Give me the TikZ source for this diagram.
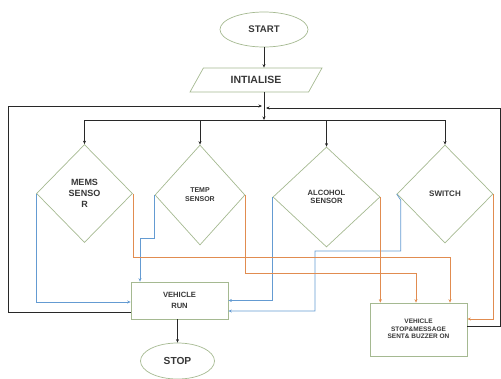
\documentclass[tikz,border=0pt]{standalone}
\usepackage{fontspec}
\setmainfont{Liberation Sans}
\usetikzlibrary{shapes.geometric,arrows.meta,calc}
\definecolor{shapeline}{RGB}{165,185,145}
\definecolor{flowblue}{RGB}{100,155,210}
\definecolor{floworange}{RGB}{225,140,80}
\definecolor{txt}{RGB}{55,55,55}
\definecolor{blk}{RGB}{40,40,40}
\begin{document}
\begin{tikzpicture}[x=1pt,y=-1pt,
 shp/.style={draw=shapeline, line width=0.7pt, text=txt, align=center, inner sep=0pt},
 dec/.style={shp, diamond, minimum width=96pt, minimum height=98pt},
 box/.style={shp, rectangle},
 term/.style={shp, ellipse},
 arr/.style={-{Stealth[length=3.5pt,width=3pt]}},
 blkline/.style={draw=blk, line width=0.9pt},
 bl/.style={draw=flowblue, line width=0.7pt, arr},
 orng/.style={draw=floworange, line width=0.7pt, arr},
]
\useasboundingbox (0,0) rectangle (501,378);

\node[term, minimum width=88pt, minimum height=35pt, font=\bfseries\fontsize{9.6}{12}\selectfont] (start) at (264,29.5) {START};
\node[shp, trapezium, trapezium left angle=49, trapezium right angle=131, trapezium stretches=true, minimum width=132pt, minimum height=24pt, font=\bfseries\fontsize{10.5}{12}\selectfont] (init) at (256,80) {INTIALISE};

\node[dec, font=\bfseries\fontsize{9}{11}\selectfont] (mems) at (84.5,193.5) {MEMS\\SENSO\\R};
\node[dec, minimum width=90pt, minimum height=100pt, font=\bfseries\fontsize{7}{9}\selectfont] (temp) at (200,195) {TEMP\\SENSOR};
\node[dec, minimum width=107pt, minimum height=100pt, font=\bfseries\fontsize{7.6}{8.5}\selectfont] (alc) at (326.5,197) {ALCOHOL\\SENSOR};
\node[dec, font=\bfseries\fontsize{8}{10}\selectfont] (sw) at (445,194) {SWITCH};

\node[box, minimum width=97pt, minimum height=37pt, font=\bfseries\fontsize{7.6}{11}\selectfont] (run) at (179.5,300.5) {VEHICLE\\RUN};
\node[box, minimum width=97pt, minimum height=53pt, font=\bfseries\fontsize{6.5}{7.5}\selectfont] (vstop) at (418.5,329.5) {\raisebox{6pt}{\begin{tabular}{@{}c@{}}VEHICLE\\STOP\&MESSAGE\\SENT\& BUZZER ON\end{tabular}}};
\node[term, minimum width=74pt, minimum height=36pt, font=\bfseries\fontsize{10.2}{12}\selectfont] (stop) at (177.5,361) {STOP};

\coordinate (dist) at (264,120);
\draw[blkline,arr] (start.south) -- (start.south |- init.north);
\draw[blkline,arr] (start.south |- init.south) -- (dist);
\draw[blkline] (mems.north |- dist) -- (sw.north |- dist);
\foreach \n in {mems,temp,alc,sw}{
  \draw[blkline,arr] (\n.north |- dist) -- (\n.north);
}
\draw[blkline,arr] ([yshift=-11.5pt]run.west) -| (8,106) -- (262,106);
\draw[blkline,arr] ([yshift=3.5pt]vstop.east) -| (500,108) -- (266,108);
\draw[blkline,arr] (stop.north |- run.south) -- (stop.north);

\draw[bl] (mems.west) |- ([yshift=-1.5pt]run.west);
\draw[bl] (temp.west) -- ++(0,43) -| ([xshift=-39.5pt]run.north);
\draw[bl] (alc.west) |- (run.east);
\draw[bl] (sw.west) -- ++(4,6) |- (315,251) |- ([yshift=-10.5pt]run.east);

\draw[orng] (mems.east) -- ++(0,63.5) -| ([xshift=31.5pt]vstop.north);
\draw[orng] (temp.east) -- ++(0,78) -| ([xshift=-2.5pt]vstop.north);
\draw[orng] (alc.east) -- (alc.east |- vstop.north);
\draw[orng] (sw.east) |- ([yshift=10.5pt]vstop.east);
\end{tikzpicture}
\end{document}
